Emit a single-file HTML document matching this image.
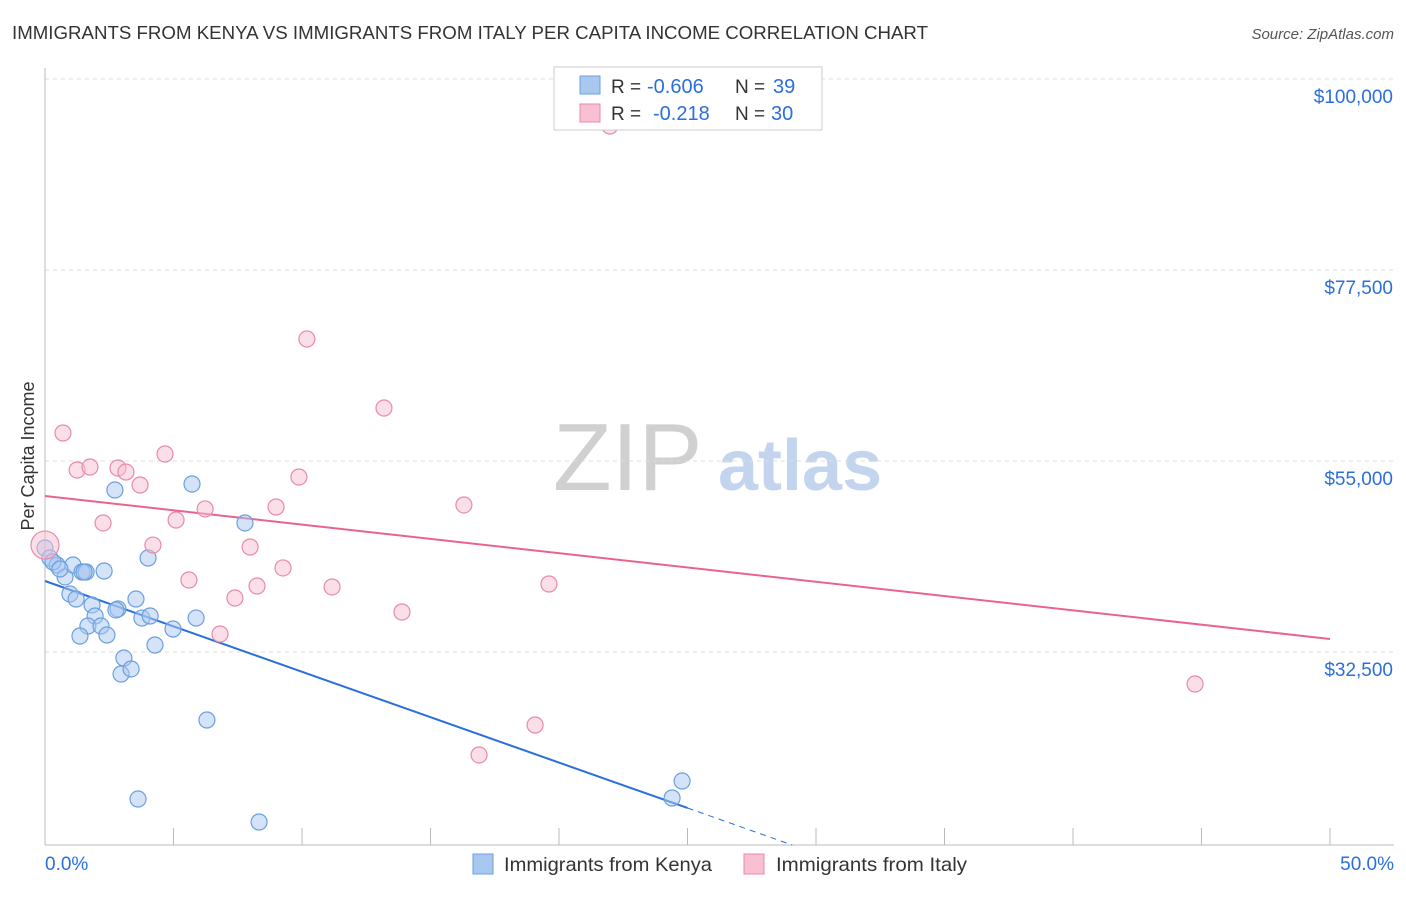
<!DOCTYPE html>
<html><head><meta charset="utf-8"><style>
body{margin:0;background:#fff;font-family:"Liberation Sans",sans-serif;}
svg text{font-family:"Liberation Sans",sans-serif;}
</style></head><body>
<svg id="chart" width="1406" height="892" xmlns="http://www.w3.org/2000/svg">
<text x="12" y="39" font-size="18.5" fill="#333" textLength="916" lengthAdjust="spacingAndGlyphs">IMMIGRANTS FROM KENYA VS IMMIGRANTS FROM ITALY PER CAPITA INCOME CORRELATION CHART</text>
<text x="1394" y="39" font-size="15" fill="#555" font-style="italic" text-anchor="end">Source: ZipAtlas.com</text>
<text x="553" y="490" font-size="96" fill="#d0d0d0" font-family="Liberation Serif,serif">ZIP</text>
<text x="718" y="490" font-size="72" fill="#c3d5ee" font-weight="bold">atlas</text>
<text transform="translate(34,456) rotate(-90)" font-size="18" fill="#333" text-anchor="middle">Per Capita Income</text>
<g id="grid"></g><g id="axes"></g><g id="lines"></g><g id="pts"></g>
<g>
<rect x="554" y="67" width="268" height="63" fill="#fff" stroke="#ccc"/>
<rect x="580" y="76" width="20" height="18" fill="#a9c8f0" stroke="#6a9fe0"/>
<rect x="580" y="104" width="20" height="18" fill="#f8c0d2" stroke="#e88aa8"/>
<text x="611" y="93" font-size="19" fill="#333">R =</text>
<text x="647" y="93" font-size="20" fill="#2a6fdb">-0.606</text>
<text x="735" y="93" font-size="19" fill="#333">N =</text>
<text x="773" y="93" font-size="20" fill="#2a6fdb">39</text>
<text x="611" y="120" font-size="19" fill="#333">R =</text>
<text x="653" y="120" font-size="20" fill="#2a6fdb">-0.218</text>
<text x="735" y="120" font-size="19" fill="#333">N =</text>
<text x="771" y="120" font-size="20" fill="#2a6fdb">30</text>
</g>
<g>
<rect x="473" y="854" width="20" height="20" fill="#a9c8f0" stroke="#6a9fe0"/>
<text x="504" y="871" font-size="19.5" fill="#333" textLength="208" lengthAdjust="spacingAndGlyphs">Immigrants from Kenya</text>
<rect x="744" y="854" width="20" height="20" fill="#f8c0d2" stroke="#e88aa8"/>
<text x="776" y="871" font-size="19.5" fill="#333" textLength="191" lengthAdjust="spacingAndGlyphs">Immigrants from Italy</text>
</g>
</svg>
<script>
const yTicks=[100000,77500,55000,32500];
const yTickLabels=["$100,000","$77,500","$55,000","$32,500"];
const xTickLabels=["0.0%","50.0%"];
const kenyaX=[0,0.19,0.47,0.78,1.09,1.44,1.60,2.30,2.72,5.72,4.01,7.78,0.97,1.21,1.83,1.95,1.67,1.36,2.18,2.41,2.84,3.54,3.77,4.09,4.98,5.88,4.28,3.07,2.96,3.35,6.30,3.62,8.33,24.79,24.40,0.31,0.58,1.52,2.76];
const kenyaY=[44750,43570,42750,41340,42750,41925,41925,42040,51580,52290,43570,47700,39330,38740,38040,36740,35560,34385,35560,34500,37570,38740,36500,36740,35210,36500,33325,31790,29910,30500,24490,15180,12475,17300,15300,43100,42280,41925,37450];
const italyX=[21.98,10.19,13.19,0.70,4.67,1.25,1.75,2.84,3.15,3.70,9.88,16.30,2.26,5.10,6.23,8.99,4.20,7.98,0,5.60,8.25,9.26,11.17,19.61,7.39,13.89,6.81,19.07,16.89,44.75];
const italyY=[94460,69370,61240,58300,55825,53940,54290,54175,53700,52170,53115,49820,47700,48050,49350,49580,45100,44870,45100,40980,40275,42400,40160,40510,38860,37210,34620,23900,20370,28730];
const kenyaFit=[40864,-1069.6];
const italyFit=[50877,-336.9];
const NS="http://www.w3.org/2000/svg";
const X0=45,X1=1330,Y0=79,YB=845;
function sx(p){return X0+(p/50)*(X1-X0);}
function sy(v){return Y0+(100000-v)*191/22500;}
function mk(tag,attrs,parent){const e=document.createElementNS(NS,tag);for(const k in attrs)e.setAttribute(k,attrs[k]);parent.appendChild(e);return e;}
const grid=document.getElementById('grid'),axes=document.getElementById('axes'),lines=document.getElementById('lines'),pts=document.getElementById('pts');
yTicks.forEach((v,i)=>{
 const l=mk('line',{x1:X0,x2:1394,y1:sy(v),y2:sy(v),stroke:'#ddd','stroke-dasharray':'4,4'},grid);
 
 
 const t=mk('text',{x:1393,y:sy(v)+24,'font-size':19,fill:'#2a6fdb','text-anchor':'end'},grid);
 t.textContent=yTickLabels[i];
 
 
});
const ya=mk('line',{x1:X0,x2:X0,y1:68,y2:YB,stroke:'#bbb'},axes);


const xa=mk('line',{x1:X0,x2:1394,y1:YB,y2:YB,stroke:'#bbb'},axes);


for(let p=0;p<=50;p+=5){
 const t=mk('line',{x1:sx(p),x2:sx(p),y1:828,y2:YB,stroke:'#bbb'},axes);
 
 
}
[[0,'start',45],[50,'end',1394]].forEach((d,i)=>{
 const t=mk('text',{x:d[2],y:870,'font-size':19,fill:'#2a6fdb','text-anchor':d[1]},axes);
 t.textContent=xTickLabels[i];
 
 
});
function pt(xs,ys,fill,stroke,name){
 xs.forEach((x,i)=>{
  const r=(name==='italy-point'&&x===0)?14:8;
  const c=mk('circle',{cx:sx(x),cy:sy(ys[i]),r:r,fill:fill,'fill-opacity':0.5,stroke:stroke,'stroke-width':1.2},pts);
  
  
 });
}
pt(kenyaX,kenyaY,'#a9c8f0','#6a9fe0','kenya-point');
pt(italyX,italyY,'#f8c0d2','#e88aa8','italy-point');
const kEnd=(kenyaFit[0]-9765)/(-kenyaFit[1]);
const kl=mk('line',{x1:sx(0),y1:sy(kenyaFit[0]),x2:sx(25),y2:sy(kenyaFit[0]+kenyaFit[1]*25),stroke:'#2a6fdb','stroke-width':2},lines);


const kd=mk('line',{x1:sx(25),y1:sy(kenyaFit[0]+kenyaFit[1]*25),x2:sx(kEnd),y2:sy(kenyaFit[0]+kenyaFit[1]*kEnd),stroke:'#2a6fdb','stroke-width':1,'stroke-dasharray':'6,5'},lines);


const il=mk('line',{x1:sx(0),y1:sy(italyFit[0]),x2:sx(50),y2:sy(italyFit[0]+italyFit[1]*50),stroke:'#e8648f','stroke-width':2},lines);


</script>
</body></html>
